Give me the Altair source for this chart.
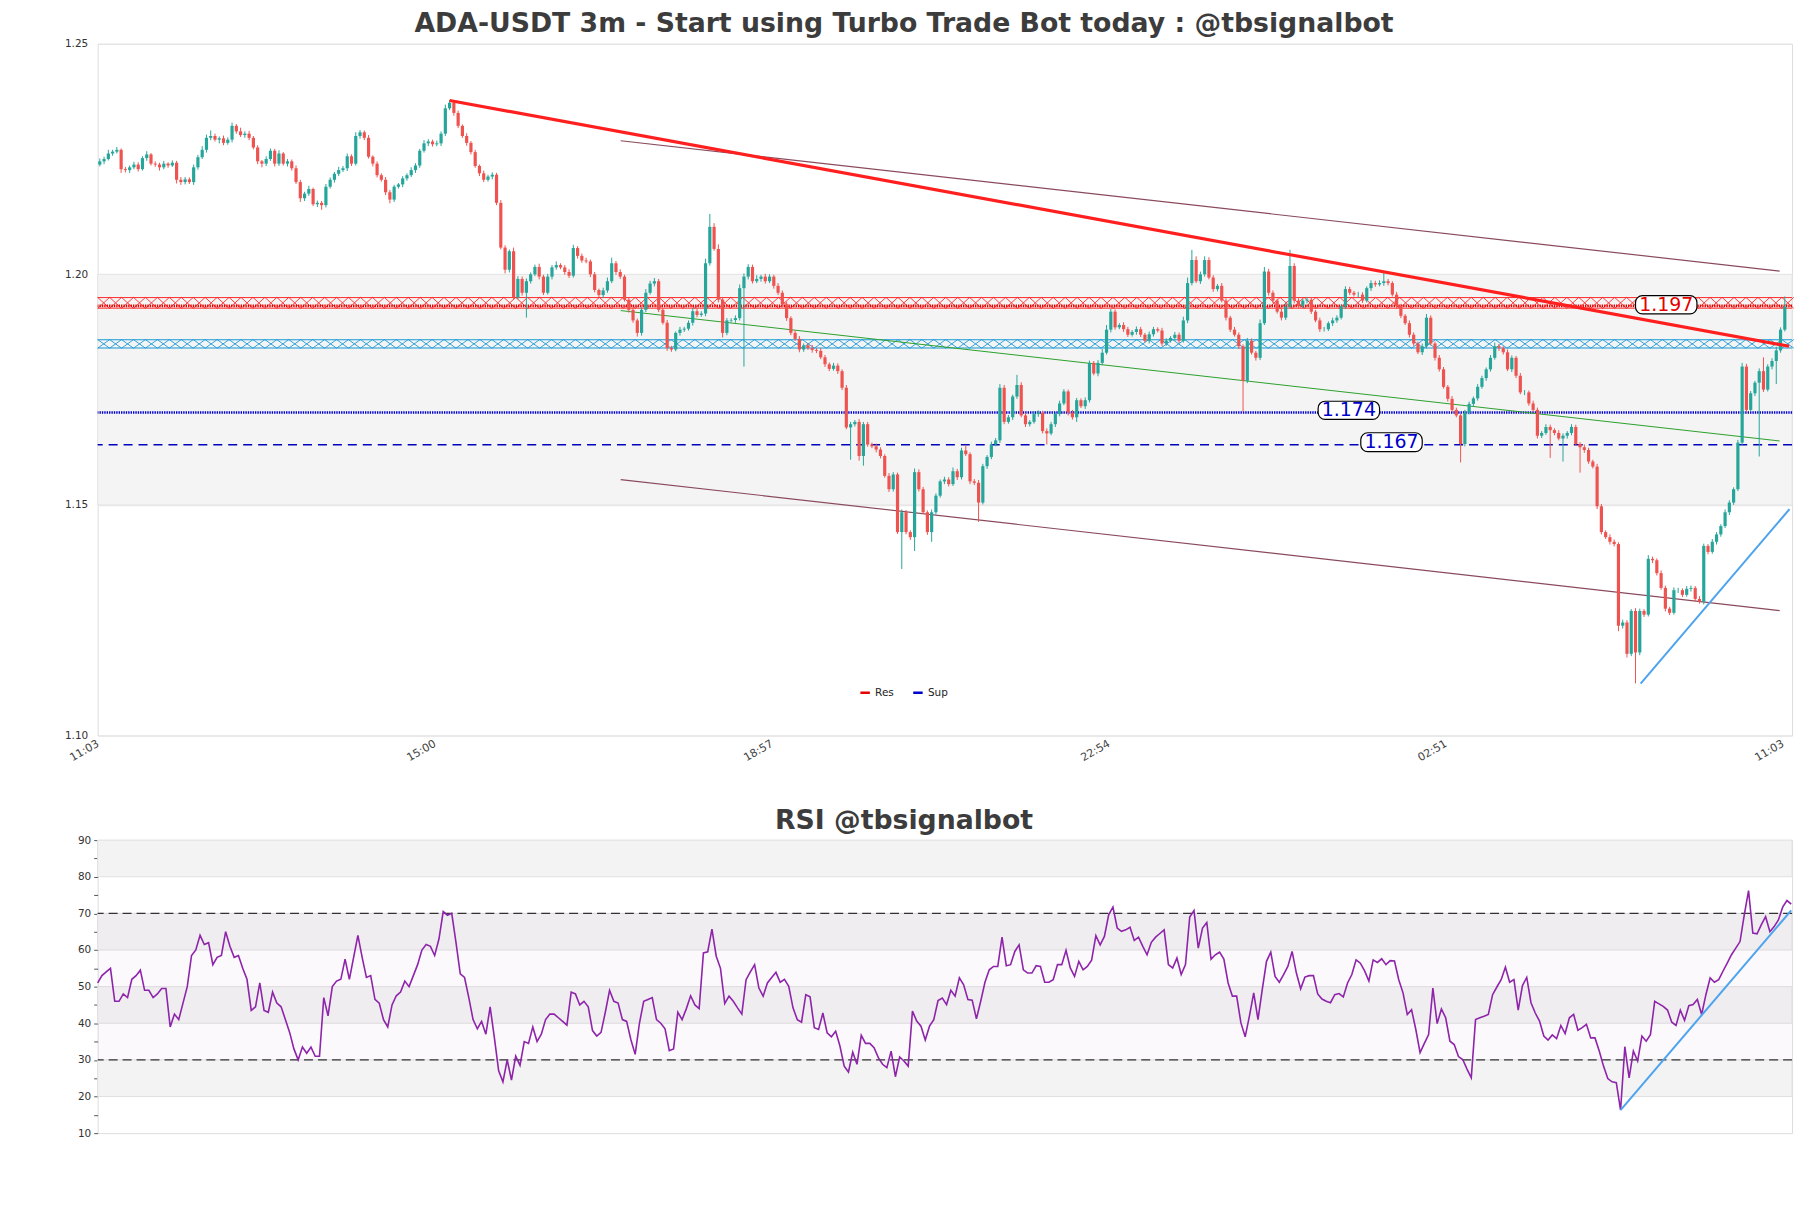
import altair as alt
import numpy as np
import pandas as pd

# ---------------- data ----------------
closes = [
    1.2245, 1.2250, 1.2262, 1.2266, 1.2270, 1.2228, 1.2226, 1.2232, 1.2238, 1.2228, 1.2252, 1.2260, 1.2240, 1.2238, 1.2232, 1.2240, 1.2236, 1.2242, 1.2205, 1.2200,
    1.2206, 1.2200, 1.2232, 1.2254, 1.2270, 1.2296, 1.2300, 1.2292, 1.2295, 1.2285, 1.2292, 1.2322, 1.2310, 1.2302, 1.2305, 1.2296, 1.2275, 1.2245, 1.2240, 1.2250,
    1.2268, 1.2240, 1.2262, 1.2240, 1.2245, 1.2230, 1.2200, 1.2165, 1.2175, 1.2185, 1.2152, 1.2155, 1.2150, 1.2190, 1.2205, 1.2218, 1.2226, 1.2230, 1.2256, 1.2240,
    1.2300, 1.2308, 1.2296, 1.2255, 1.2240, 1.2215, 1.2205, 1.2178, 1.2162, 1.2190, 1.2195, 1.2208, 1.2215, 1.2226, 1.2236, 1.2268, 1.2284, 1.2288, 1.2282, 1.2284,
    1.2305, 1.2360, 1.2372, 1.2350, 1.2322, 1.2300, 1.2285, 1.2265, 1.2235, 1.2219, 1.2205, 1.2212, 1.2216, 1.2155, 1.2058, 1.2010, 1.2050, 1.1950, 1.1990, 1.1960,
    1.1985, 1.2000, 1.2016, 1.1995, 1.1960, 1.1995, 1.2015, 1.2020, 1.2015, 1.2005, 1.1997, 1.2057, 1.2040, 1.2030, 1.2028, 1.2000, 1.1966, 1.1955, 1.1965, 1.1985,
    1.2024, 1.2005, 1.1995, 1.1945, 1.1923, 1.1900, 1.1873, 1.1923, 1.1960, 1.1980, 1.1985, 1.1923, 1.1895, 1.1840, 1.1837, 1.1873, 1.1880, 1.1882, 1.1895, 1.1920,
    1.1912, 1.1915, 1.2024, 1.2103, 1.2055, 1.1945, 1.1873, 1.1900, 1.1901, 1.1905, 1.1970, 1.1995, 1.2016, 1.1985, 1.1990, 1.1995, 1.1985, 1.1995, 1.1975, 1.1960,
    1.1935, 1.1905, 1.1873, 1.1860, 1.1837, 1.1846, 1.1840, 1.1836, 1.1834, 1.1820, 1.1805, 1.1795, 1.1802, 1.1790, 1.1754, 1.1668, 1.1675, 1.1680, 1.1606, 1.1675,
    1.1631, 1.1627, 1.1620, 1.1606, 1.1563, 1.1534, 1.1566, 1.1441, 1.1484, 1.1441, 1.1430, 1.1571, 1.1534, 1.1484, 1.1441, 1.1484, 1.1520, 1.1551, 1.1555, 1.1545,
    1.1573, 1.1560, 1.1618, 1.1610, 1.1551, 1.1548, 1.1505, 1.1584, 1.1604, 1.1631, 1.1640, 1.1754, 1.1680, 1.1690, 1.1735, 1.1760, 1.1694, 1.1675, 1.1680, 1.1697,
    1.1700, 1.1660, 1.1655, 1.1675, 1.1697, 1.1720, 1.1746, 1.1700, 1.1690, 1.1727, 1.1714, 1.1727, 1.1808, 1.1785, 1.1808, 1.1830, 1.1880, 1.1919, 1.1885, 1.1890,
    1.1881, 1.1869, 1.1875, 1.1881, 1.1869, 1.1856, 1.1870, 1.1881, 1.1878, 1.1850, 1.1856, 1.1862, 1.1869, 1.1856, 1.1900, 1.1981, 1.2031, 1.1985, 1.2000, 1.2031,
    1.1993, 1.1968, 1.1975, 1.1943, 1.1906, 1.1880, 1.1869, 1.1844, 1.1769, 1.1856, 1.1830, 1.1819, 1.1894, 1.2006, 1.1960, 1.1943, 1.1919, 1.1906, 1.1930, 1.2018,
    1.1943, 1.1931, 1.1943, 1.1945, 1.1919, 1.1900, 1.1881, 1.1881, 1.1894, 1.1900, 1.1906, 1.1931, 1.1968, 1.1960, 1.1956, 1.1956, 1.1943, 1.1970, 1.1981, 1.1978,
    1.1981, 1.1985, 1.1981, 1.1956, 1.1931, 1.1910, 1.1894, 1.1869, 1.1850, 1.1831, 1.1844, 1.1906, 1.1850, 1.1819, 1.1794, 1.1756, 1.1730, 1.1706, 1.1694, 1.1632,
    1.1700, 1.1719, 1.1731, 1.1756, 1.1775, 1.1794, 1.1819, 1.1844, 1.1840, 1.1831, 1.1794, 1.1819, 1.1780, 1.1744, 1.1744, 1.1720, 1.1706, 1.1650, 1.1656, 1.1669,
    1.1662, 1.1656, 1.1644, 1.1650, 1.1656, 1.1669, 1.1632, 1.1625, 1.1619, 1.1594, 1.1583, 1.1497, 1.1441, 1.1430, 1.1420, 1.1415, 1.1238, 1.1245, 1.1177, 1.1270,
    1.1180, 1.1270, 1.1262, 1.1383, 1.1380, 1.1352, 1.1320, 1.1275, 1.1266, 1.1315, 1.1315, 1.1305, 1.1318, 1.1320, 1.1296, 1.1290, 1.1411, 1.1398, 1.1420, 1.1436,
    1.1454, 1.1484, 1.1505, 1.1534, 1.1635, 1.1800, 1.1706, 1.1742, 1.1765, 1.1790, 1.1750, 1.1800, 1.1812, 1.1835, 1.1880, 1.1930,
]
first_open = 1.2238

# wick lengths above / below the candle body, in units of 0.0001
wick_up = [
    6, 5, 8, 4, 6, 3, 5, 4, 6, 5, 4, 7, 3, 5, 4, 6, 3, 5, 4, 6,
    5, 4, 6, 5, 8, 7, 12, 5, 4, 6, 5, 7, 4, 8, 5, 6, 4, 5, 3, 6,
    5, 4, 7, 3, 5, 4, 6, 5, 4, 7, 3, 5, 4, 6, 5, 4, 7, 5, 6, 4,
    8, 5, 4, 6, 3, 5, 4, 6, 5, 4, 3, 5, 4, 6, 5, 4, 7, 5, 4, 6,
    5, 8, 6, 4, 5, 3, 6, 4, 5, 3, 6, 4, 5, 4, 6, 5, 4, 8, 6, 5,
    6, 4, 5, 7, 4, 6, 5, 8, 4, 5, 6, 7, 4, 5, 6, 4, 5, 3, 6, 8,
    12, 5, 6, 4, 5, 6, 4, 5, 8, 6, 7, 5, 4, 6, 5, 3, 6, 4, 5, 7,
    6, 5, 10, 28, 8, 10, 6, 5, 4, 6, 8, 7, 6, 5, 8, 4, 6, 5, 4, 6,
    5, 6, 4, 5, 6, 4, 5, 7, 4, 6, 5, 4, 6, 5, 4, 6, 5, 4, 6, 5,
    5, 4, 6, 5, 4, 6, 5, 4, 6, 5, 4, 8, 6, 5, 4, 6, 5, 4, 6, 5,
    8, 5, 6, 12, 4, 5, 6, 5, 4, 6, 5, 8, 6, 5, 4, 22, 6, 5, 4, 6,
    5, 4, 6, 5, 4, 6, 5, 4, 6, 5, 4, 6, 5, 4, 6, 8, 10, 6, 5, 4,
    6, 5, 4, 6, 5, 4, 6, 5, 4, 6, 5, 4, 6, 5, 8, 12, 22, 8, 6, 8,
    6, 5, 4, 6, 5, 4, 6, 5, 4, 6, 5, 4, 8, 10, 6, 5, 4, 6, 8, 35,
    6, 5, 4, 6, 5, 4, 6, 5, 4, 6, 5, 4, 6, 5, 4, 6, 5, 4, 6, 5,
    6, 20, 5, 4, 6, 5, 4, 6, 5, 4, 6, 8, 5, 4, 6, 5, 4, 6, 5, 4,
    6, 5, 4, 6, 5, 4, 6, 8, 5, 4, 6, 5, 4, 6, 5, 4, 6, 5, 4, 6,
    5, 4, 6, 5, 4, 6, 5, 4, 6, 5, 4, 6, 5, 4, 6, 5, 4, 6, 5, 4,
    6, 5, 4, 8, 5, 4, 6, 5, 4, 6, 5, 4, 6, 5, 4, 6, 5, 4, 6, 5,
    4, 6, 5, 4, 6, 8, 6, 5, 4, 6, 30, 5, 6, 8, 5, 22,
]
wick_dn = [
    4, 6, 3, 5, 4, 8, 5, 6, 4, 5, 3, 6, 4, 5, 7, 4, 5, 3, 8, 6,
    5, 4, 6, 5, 4, 6, 5, 4, 8, 5, 4, 6, 5, 4, 6, 5, 4, 6, 8, 5,
    4, 6, 5, 4, 6, 5, 4, 8, 6, 5, 4, 6, 10, 5, 4, 6, 5, 4, 6, 5,
    4, 6, 5, 4, 6, 5, 4, 6, 8, 5, 4, 6, 5, 4, 6, 5, 4, 6, 5, 4,
    6, 5, 4, 6, 5, 4, 6, 5, 4, 6, 5, 4, 6, 5, 4, 8, 6, 5, 4, 6,
    54, 5, 4, 6, 5, 4, 6, 5, 4, 6, 5, 4, 6, 5, 4, 6, 5, 4, 6, 5,
    4, 6, 5, 4, 6, 5, 8, 6, 5, 4, 6, 5, 4, 6, 5, 4, 6, 5, 4, 6,
    5, 4, 6, 5, 4, 6, 10, 5, 4, 6, 5, 170, 6, 5, 4, 6, 5, 4, 6, 5,
    4, 6, 5, 4, 6, 5, 4, 6, 5, 4, 6, 5, 4, 6, 5, 4, 70, 5, 10, 21,
    5, 4, 6, 5, 4, 6, 5, 4, 80, 5, 6, 30, 5, 4, 6, 21, 5, 4, 6, 5,
    4, 6, 5, 4, 6, 5, 42, 4, 6, 5, 4, 6, 5, 4, 6, 5, 4, 6, 5, 4,
    6, 5, 24, 4, 6, 5, 4, 6, 5, 10, 4, 6, 5, 4, 6, 5, 4, 6, 5, 4,
    6, 5, 4, 6, 5, 4, 6, 5, 4, 6, 5, 4, 6, 5, 4, 6, 5, 4, 6, 5,
    4, 6, 5, 4, 6, 5, 4, 6, 67, 5, 4, 6, 5, 4, 6, 5, 4, 6, 5, 4,
    6, 5, 4, 6, 5, 4, 6, 5, 4, 6, 5, 4, 6, 5, 4, 6, 5, 4, 6, 5,
    4, 6, 5, 4, 6, 5, 4, 6, 5, 4, 6, 5, 4, 6, 5, 4, 6, 5, 4, 40,
    5, 4, 6, 5, 4, 6, 5, 4, 6, 5, 4, 6, 5, 4, 6, 5, 4, 6, 5, 4,
    60, 5, 4, 50, 6, 5, 4, 55, 6, 5, 4, 6, 5, 4, 6, 5, 12, 6, 8, 5,
    67, 6, 5, 4, 6, 5, 4, 6, 5, 4, 6, 5, 4, 6, 5, 4, 6, 5, 4, 6,
    5, 4, 6, 5, 4, 6, 5, 4, 6, 160, 5, 4, 6, 50, 5, 4,
]

rsi_values = [
    51, 53, 54, 55, 46, 46, 48, 47, 52, 53, 54.5, 49, 49, 47, 48, 49.5, 49.5, 39, 42.5, 41,
    45.5, 50, 58.5, 60, 64, 61.5, 62, 56, 58, 58.5, 65, 61, 58, 58.5, 55, 52, 43.5, 44.5, 51, 43.5,
    43, 48.5, 45.5, 44.5, 41, 37.5, 33, 30, 33.5, 31.8, 33.5, 31, 31, 47, 42, 50, 51.5, 52, 57.5, 52,
    58, 64, 58, 52.5, 53, 46.5, 45.5, 41, 39, 45, 47.5, 48.5, 51.5, 50, 53, 56, 60, 61.5, 61, 58.5,
    63, 70.5, 69.5, 70, 62, 53.5, 52.5, 47, 41, 38.5, 40.5, 37, 44.5, 36, 27, 24, 30, 24.5, 31, 28.5,
    35, 34.5, 39, 35, 37, 41, 42.5, 42.5, 41.5, 40.5, 39.5, 48.5, 48, 45, 46, 44.5, 38, 36.5, 37.5, 43,
    49, 46, 45.5, 41, 40.5, 35.5, 31.5, 40, 46, 46.5, 47, 41, 40, 38.5, 32.5, 33, 43, 41, 44, 47.5,
    45, 44, 59.2, 59.5, 65.7, 58.3, 55, 45.4, 47.4, 46, 44.2, 42.5, 51.9, 54, 56, 49.6, 47.4, 51, 52.5, 53.9,
    51.2, 52, 50.1, 44.2, 41, 40.3, 47.8, 47.2, 38.8, 38.3, 42.8, 37.4, 36.3, 37.8, 33.8, 28.3, 26.7, 32.1, 28.8, 36.7,
    34.5, 34.5, 33.3, 30.6, 28.8, 27.9, 32.4, 25.4, 30.8, 29.7, 28.3, 43.3, 40.6, 39.2, 35.4, 39.2, 41, 46.2, 46.9, 45.1,
    49, 47.4, 52.4, 50.5, 46.5, 46.3, 41.2, 46, 51.2, 54.6, 55.5, 55.5, 63.5, 55.7, 56, 59.6, 61.4, 54.6, 53.7, 53.7,
    55.7, 55.5, 51.2, 51.2, 51.9, 56, 56, 59.9, 55.1, 52.8, 56.9, 54.6, 55.5, 57.2, 63.9, 61.4, 63.7, 69.6, 71.7, 66,
    65.1, 65.5, 66.2, 62.6, 63.5, 61, 58.7, 62.1, 63.5, 64.5, 65.5, 56, 55.1, 57.8, 53.3, 56, 69, 70.8, 60.5, 66,
    67.5, 57.5, 58.7, 59.4, 57.5, 51, 47.4, 47.4, 40.1, 36.3, 42, 48.3, 41, 49.2, 56.9, 59.4, 52.8, 51.2, 53.3, 55.5,
    59.6, 53.7, 49.4, 52.6, 53, 53, 48, 46.6, 46, 45.6, 47.8, 48.1, 47.2, 51, 53.3, 57.3, 56.4, 54.3, 51.5, 57.3,
    56.6, 57.6, 56, 57.1, 57, 51.9, 48.3, 42.4, 43.7, 38.3, 32, 34.5, 36.9, 49.6, 39.9, 43.9, 41.5, 35.1, 34.2, 30.9,
    30.1, 27.5, 25.1, 41, 41.5, 41.9, 42.4, 47.8, 49.9, 51.9, 55.3, 51.2, 51.9, 43.6, 50.3, 52.5, 45.6, 42.8, 40.6, 36.5,
    35.4, 36.8, 35.8, 39.4, 37.2, 41.5, 42.4, 38.1, 38.8, 39.7, 36, 36, 32.4, 28.3, 24.9, 24, 23.8, 16.3, 33.6, 25.1,
    32.4, 29.7, 36.5, 35.1, 36.9, 46, 45.3, 44.6, 43.6, 40.3, 39.4, 43.6, 40.8, 44.8, 45.1, 46.5, 42.4, 47.8, 52.4, 51.2,
    51.9, 54.2, 56.4, 58.7, 60.5, 62.3, 69.6, 76.2, 64.6, 64.4, 66.9, 69.1, 65, 66.4, 68.2, 71.7, 73.5, 72.5,
]

tick_idx = [0, 79, 158, 237, 316, 395]
tick_lab = ["11:03", "15:00", "18:57", "22:54", "02:51", "11:03"]

res_zone = [1.19266, 1.19496]
sup_zone = [1.18402, 1.18581]
res_level = 1.19316
sup_level = 1.17004
sup_level2 = 1.16306

trend_x0 = [82.0, 122.1, 122.1, 122.1, 361.2]
trend_y0 = [1.2377, 1.22897, 1.15549, 1.19214, 1.11125]
trend_x1 = [396.0, 393.8, 393.8, 393.8, 396.1]
trend_y1 = [1.1844, 1.20071, 1.12709, 1.16386, 1.14907]

rsi_trend_x = [357.0, 397.0]
rsi_trend_y = [16.3, 70.8]

box_text = ["1.197", "1.174", "1.167"]
box_x0 = [360.0, 285.6, 295.6]
box_x1 = [374.4, 300.0, 310.0]
box_y0 = [1.19142, 1.16853, 1.16154]
box_y1 = [1.19538, 1.17248, 1.16564]
box_kind = ["res", "sup", "sup"]

rsi_band_lo = [80, 60, 40, 20]
rsi_band_hi = [90, 70, 50, 30]
rsi_levels = [30, 70]

assert len(wick_up) == len(closes) == len(wick_dn), (len(closes), len(wick_up), len(wick_dn))

# ---------------- frames ----------------
n = len(closes)
opens = [first_open] + closes[:-1]
rows = []
for i in range(n):
    o, c = opens[i], closes[i]
    rows.append(dict(idx=i, open=o, close=c,
                     high=max(o, c) + wick_up[i] * 1e-4,
                     low=min(o, c) - wick_dn[i] * 1e-4,
                     up=c >= o))
candles = pd.DataFrame(rows)
up_df = candles[candles.up]
dn_df = candles[~candles.up]

UP = "#26a69a"
DOWN = "#ef5350"
TITLE_FONT = "DejaVu Sans"
FONT = "DejaVu Sans"
TITLE_DX = -41  # titles are centred on the whole figure, not on the plot area

xs = alt.Scale(domain=[-0.5, 396.7], nice=False, zero=False)
ys = alt.Scale(domain=[1.10, 1.25], nice=False, zero=False)

label_expr = " : ".join(f"datum.value == {v} ? '{l}'" for v, l in zip(tick_idx, tick_lab)) + " : ''"
x_axis = alt.Axis(values=tick_idx, labelExpr=label_expr, labelAngle=330, labelAlign="right",
                  labelBaseline="top", ticks=False, domain=False, grid=False, labelFontSize=11,
                  labelColor="#444444", labelFont=FONT, labelPadding=2, labelOffset=-5, title=None,
                  labelOverlap=False, labelFlush=False, labelBound=False)
y_axis = alt.Axis(values=[1.10, 1.15, 1.20, 1.25], format=".2f", ticks=False, domain=False,
                  grid=True, gridColor="#e4e4e4", labelFontSize=10.5, labelColor="#333333",
                  labelFont=FONT, labelPadding=10, title=None, minExtent=60, maxExtent=60)


def X(f):
    return alt.X(f"{f}:Q", scale=xs, axis=x_axis)


def Y(f):
    return alt.Y(f"{f}:Q", scale=ys, axis=y_axis)


band = alt.Chart(pd.DataFrame({"lo": [1.15], "hi": [1.20]})).mark_rect(
    color="#f4f4f4", stroke="#e4e4e4", strokeWidth=1).encode(y=Y("lo"), y2="hi:Q")

hx = np.arange(0.9, 396.7, 2.8)
res_mid = sum(res_zone) / 2
sup_mid = sum(sup_zone) / 2
res_hatch = alt.Chart(pd.DataFrame({"idx": hx, "y": res_mid})).mark_point(
    shape="M-1,-0.92L1,0.92M-1,0.92L1,-0.92", size=144, filled=False, strokeWidth=0.9,
    color="#ff2a2a", opacity=1).encode(x=X("idx"), y=Y("y"))
sup_hatch = alt.Chart(pd.DataFrame({"idx": hx, "y": sup_mid})).mark_point(
    shape="M-1,-0.72L1,0.72M-1,0.72L1,-0.72", size=144, filled=False, strokeWidth=0.9,
    color="#1798d4", opacity=1).encode(x=X("idx"), y=Y("y"))
res_edges = alt.Chart(pd.DataFrame({"y": res_zone})).mark_rule(
    color="#ff2a2a", strokeWidth=1).encode(y=Y("y"))
sup_edges = alt.Chart(pd.DataFrame({"y": sup_zone})).mark_rule(
    color="#1798d4", strokeWidth=1).encode(y=Y("y"))

levels = alt.Chart(pd.DataFrame({"y": [res_level, sup_level], "name": ["Res", "Sup"]})).mark_rule(
    strokeWidth=2.6, strokeDash=[1.4, 1]).encode(
    y=Y("y"),
    color=alt.Color("name:N", scale=alt.Scale(domain=["Res", "Sup"], range=["#e60000", "#0000cc"]),
                    legend=alt.Legend(orient="none", legendX=764, legendY=645, direction="horizontal",
                                      title=None, symbolType="stroke", symbolStrokeWidth=2.5,
                                      symbolSize=90, symbolDash=[1, 0], labelFontSize=10.5,
                                      labelFont=FONT, labelColor="#222222", columnPadding=14)))
dash_level = alt.Chart(pd.DataFrame({"y": [sup_level2]})).mark_rule(
    color="#0000bb", strokeWidth=1.5, strokeDash=[9, 6]).encode(y=Y("y"))

wick_u = alt.Chart(up_df).mark_rule(color=UP, strokeWidth=1).encode(x=X("idx"), y=Y("low"), y2="high:Q")
wick_d = alt.Chart(dn_df).mark_rule(color=DOWN, strokeWidth=1).encode(x=X("idx"), y=Y("low"), y2="high:Q")
body_u = alt.Chart(up_df).mark_rule(color=UP, strokeWidth=3.2).encode(x=X("idx"), y=Y("open"), y2="close:Q")
body_d = alt.Chart(dn_df).mark_rule(color=DOWN, strokeWidth=3.2).encode(x=X("idx"), y=Y("open"), y2="close:Q")

trends = pd.DataFrame({"x0": trend_x0, "y0": trend_y0, "x1": trend_x1, "y1": trend_y1,
                       "kind": ["res", "chan", "chan", "mid", "rise"]})


def trend_layer(kind, color, width):
    return alt.Chart(trends).transform_filter(alt.datum.kind == kind).mark_rule(
        color=color, strokeWidth=width).encode(x=X("x0"), x2="x1:Q", y=Y("y0"), y2="y1:Q")


t_chan = trend_layer("chan", "#8a4a5c", 1.2)
t_mid = trend_layer("mid", "#2ca02c", 1.0)
t_rise = trend_layer("rise", "#4da3ee", 2.0)
t_res = trend_layer("res", "#ff1f1f", 3.2)

boxes = pd.DataFrame({"x0": box_x0, "x1": box_x1, "y0": box_y0, "y1": box_y1,
                      "text": box_text, "kind": box_kind})
boxes["xm"] = (boxes.x0 + boxes.x1) / 2
boxes["ym"] = (boxes.y0 + boxes.y1) / 2
box_rect = alt.Chart(boxes).mark_rect(fill="white", stroke="black", strokeWidth=1.2,
                                      cornerRadius=7).encode(x=X("x0"), x2="x1:Q", y=Y("y0"), y2="y1:Q")
box_txt_res = alt.Chart(boxes).transform_filter(alt.datum.kind == "res").mark_text(
    fontSize=19, font=FONT, color="#e60000").encode(x=X("xm"), y=Y("ym"), text="text:N")
box_txt_sup = alt.Chart(boxes).transform_filter(alt.datum.kind == "sup").mark_text(
    fontSize=19, font=FONT, color="#0000cc").encode(x=X("xm"), y=Y("ym"), text="text:N")

main = alt.layer(
    band, res_edges, res_hatch, sup_edges, sup_hatch, levels, dash_level,
    t_mid, t_chan, wick_u, wick_d, body_u, body_d, t_rise, t_res,
    box_rect, box_txt_res, box_txt_sup,
).properties(
    width=1700, height=694,
    title=alt.TitleParams("ADA-USDT 3m - Start using Turbo Trade Bot today : @tbsignalbot",
                          fontSize=26.8, font=TITLE_FONT, fontWeight="bold", color="#3c3c3c",
                          anchor="middle", offset=1, dx=TITLE_DX),
)

# ---------------- RSI panel ----------------
rx = alt.Scale(domain=[0, 397.2], nice=False, zero=False)
ry = alt.Scale(domain=[10, 90], nice=False, zero=False)
ry_axis = alt.Axis(values=list(range(10, 95, 5)), labelExpr="datum.value % 10 == 0 ? datum.label : ''",
                   tickSize=4, tickColor="#555555", domain=False, grid=False, labelFontSize=10.5,
                   labelColor="#333333", labelFont=FONT, labelPadding=3, title=None,
                   minExtent=60, maxExtent=60)

rsi_df = pd.DataFrame({"idx": np.arange(len(rsi_values)), "rsi": rsi_values})

r_bands = alt.Chart(pd.DataFrame({"lo": rsi_band_lo, "hi": rsi_band_hi})).mark_rect(
    color="#f3f3f3", stroke="#e0e0e0", strokeWidth=1).encode(
    y=alt.Y("lo:Q", scale=ry, axis=ry_axis), y2="hi:Q")
r_tint = alt.Chart(pd.DataFrame({"lo": [30], "hi": [70]})).mark_rect(
    color="#a070c0", opacity=0.045).encode(y=alt.Y("lo:Q", scale=ry, axis=ry_axis), y2="hi:Q")
r_levels = alt.Chart(pd.DataFrame({"y": rsi_levels})).mark_rule(
    color="#333333", strokeWidth=1.2, strokeDash=[9, 5]).encode(y=alt.Y("y:Q", scale=ry, axis=ry_axis))
r_line = alt.Chart(rsi_df).mark_line(color="#8e24aa", strokeWidth=1.6).encode(
    x=alt.X("idx:Q", scale=rx, axis=None), y=alt.Y("rsi:Q", scale=ry, axis=ry_axis))
r_trend = alt.Chart(pd.DataFrame({"x0": [rsi_trend_x[0]], "x1": [rsi_trend_x[1]],
                                  "y0": [rsi_trend_y[0]], "y1": [rsi_trend_y[1]]})).mark_rule(
    color="#4da3ee", strokeWidth=2).encode(
    x=alt.X("x0:Q", scale=rx, axis=None), x2="x1:Q",
    y=alt.Y("y0:Q", scale=ry, axis=ry_axis), y2="y1:Q")

rsi = alt.layer(r_bands, r_tint, r_levels, r_line, r_trend).properties(
    width=1700, height=294,
    title=alt.TitleParams("RSI @tbsignalbot", fontSize=26.8, font=TITLE_FONT, fontWeight="bold",
                          color="#3c3c3c", anchor="middle", offset=0, dx=TITLE_DX),
)

chart = alt.vconcat(main, rsi, spacing=44).resolve_scale(
    x="independent", y="independent", color="independent"
).resolve_legend(color="independent").properties(
    padding={"left": 37, "top": 8, "right": 14, "bottom": 5}
).configure_view(stroke="#dcdcdc").configure(background="white")

chart.save("out.html", embed_options={"renderer": "svg", "actions": False})
